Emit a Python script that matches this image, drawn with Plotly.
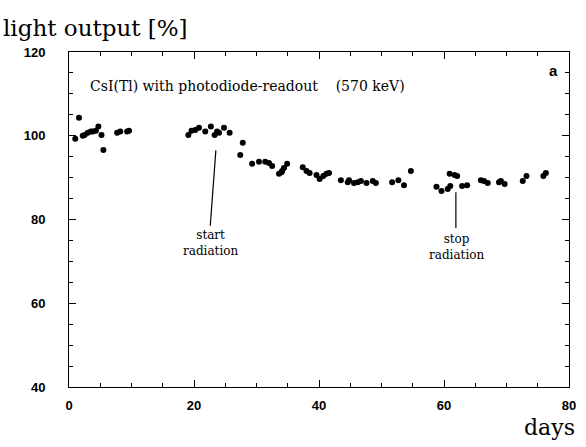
import plotly.graph_objects as go

days = [1.0, 1.6, 2.2, 2.5, 3.0, 3.5, 3.8, 4.3, 4.7, 5.2, 5.5, 7.7, 8.2, 9.3, 9.6,
        19.1, 19.6, 20.2, 20.8, 21.8, 22.7, 23.3, 23.7, 24.0, 24.8, 25.7,
        27.4, 27.8, 29.3, 30.4, 31.4, 32.0, 32.5, 33.6, 34.0, 34.1, 34.4, 34.9,
        37.4, 38.0, 38.5, 39.6, 40.1, 40.7, 41.2, 41.6,
        43.5, 44.6, 44.8, 45.6, 46.2, 46.7, 47.6, 48.6, 49.1,
        51.7, 52.7, 53.6, 54.7,
        58.8, 59.6, 60.6, 61.0, 60.9, 61.7, 62.1, 62.9, 63.7,
        65.9, 66.4, 67.0, 68.8, 69.1, 69.7, 72.6, 73.2, 75.9, 76.3]
light = [99.3, 104.3, 100.0, 100.2, 100.7, 101.0, 101.0, 101.2, 102.2, 100.2, 96.6, 100.7, 101.0, 101.0, 101.2,
         100.2, 101.2, 101.4, 101.9, 101.0, 102.2, 100.2, 101.0, 100.7, 101.9, 100.7,
         95.4, 98.3, 93.3, 93.8, 93.8, 93.5, 92.8, 90.9, 91.3, 91.6, 92.3, 93.3,
         92.5, 91.6, 91.1, 90.6, 89.7, 90.4, 90.9, 91.1,
         89.4, 88.9, 89.4, 88.7, 88.9, 89.2, 88.7, 89.2, 88.7,
         88.9, 89.4, 88.2, 91.6,
         87.8, 86.8, 87.3, 88.0, 90.9, 90.6, 90.4, 88.0, 88.2,
         89.4, 89.2, 88.7, 88.9, 89.2, 88.5, 89.2, 90.4, 90.4, 91.1]

x_ticks = [0, 20, 40, 60, 80]
y_ticks = [40, 60, 80, 100, 120]

title_text = "CsI(Tl) with photodiode-readout&nbsp;&nbsp;&nbsp;&nbsp;(570 keV)"
start_text = "start<br>radiation"
stop_text = "stop<br>radiation"

fig = go.Figure()
fig.add_trace(go.Scatter(x=days, y=light, mode="markers",
                         marker=dict(color="black", size=6), showlegend=False))

serif = "DejaVu Serif"
axcommon = dict(showgrid=False, zeroline=False, showline=True, linecolor="black",
                linewidth=1, mirror="allticks", ticks="inside", ticklen=7,
                tickcolor="black",
                minor=dict(ticks="inside", ticklen=4, tickcolor="black", dtick=5, showgrid=False),
                tickfont=dict(family="Liberation Sans", size=13, color="black", weight="bold"))

fig.update_xaxes(range=[0, 80], tickvals=x_ticks, ticktext=[str(v) for v in x_ticks],
                 ticklabelstandoff=6, **axcommon)
fig.update_yaxes(range=[40, 120], tickvals=y_ticks, ticktext=[str(v) for v in y_ticks],
                 ticklabelstandoff=20, **axcommon)

fig.add_annotation(x=3.0, y=112.0, xref="x", yref="y", text=title_text, showarrow=False,
                   xanchor="left", font=dict(family=serif, size=14, color="black"))
fig.add_annotation(x=78.5, y=115.5, xref="x", yref="y", text="<b>a</b>", showarrow=False,
                   xanchor="right", font=dict(family="Liberation Sans", size=15, color="black"))
fig.add_annotation(x=22.6, y=74.5, xref="x", yref="y", text=start_text, showarrow=False,
                   font=dict(family=serif, size=12, color="black"))
fig.add_annotation(x=62.0, y=73.5, xref="x", yref="y", text=stop_text, showarrow=False,
                   font=dict(family=serif, size=12, color="black"))
fig.add_shape(type="line", xref="x", yref="y", x0=23.5, y0=96.5, x1=22.6, y1=78.5,
              line=dict(color="black", width=1.2))
fig.add_shape(type="line", xref="x", yref="y", x0=61.9, y0=86.5, x1=61.9, y1=78.0,
              line=dict(color="black", width=1.2))

fig.add_annotation(x=0, y=1, xref="paper", yref="paper", xanchor="left", yanchor="bottom",
                   xshift=-68, yshift=9, text="light output [%]", showarrow=False,
                   font=dict(family=serif, size=23, color="black"))
fig.add_annotation(x=1, y=0, xref="paper", yref="paper", xanchor="right", yanchor="top",
                   xshift=8, yshift=-26, text="days", showarrow=False,
                   font=dict(family=serif, size=22, color="black"))

fig.update_layout(width=586, height=447, margin=dict(l=69, r=10, t=52, b=60),
                  paper_bgcolor="white", plot_bgcolor="white")

fig.write_html("out.html")
